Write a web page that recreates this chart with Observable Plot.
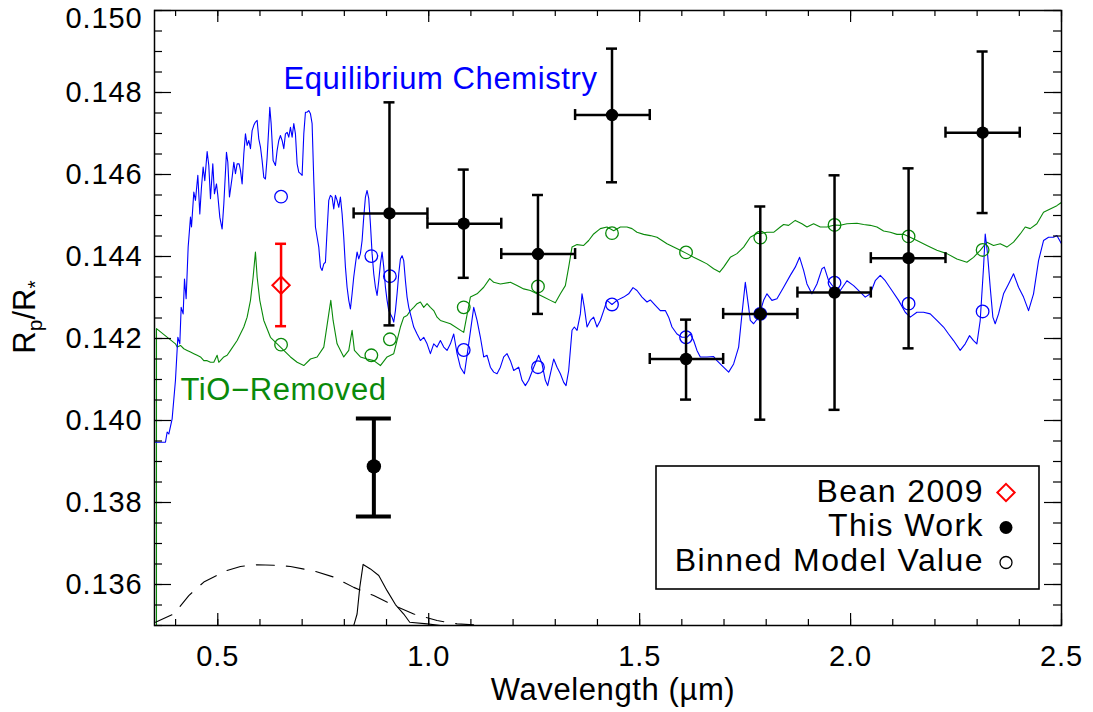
<!DOCTYPE html>
<html><head><meta charset="utf-8">
<script src="https://cdn.jsdelivr.net/npm/d3@7"></script>
<script src="https://cdn.jsdelivr.net/npm/@observablehq/plot@0.6"></script>
<style>html,body{margin:0;padding:0;background:#fff}</style>
</head><body><div id="chart"></div>
<script>
// ---------------- DATA ----------------
const xMajorTicks = [0.5, 1.0, 1.5, 2.0, 2.5];
const yMajorTicks = [0.136, 0.138, 0.140, 0.142, 0.144, 0.146, 0.148, 0.150];
const legendLabels = ["Bean 2009", "This Work", "Binned Model Value"];
const xLabel = "Wavelength (µm)";
const annotations = [
  {text: "Equilibrium Chemistry", x: 0.6557, y: 0.14809, series: "eq"},
  {text: "TiO\u2212Removed", x: 0.4116, y: 0.14049, series: "tio"}
];

// This Work (binned photometry)
const obsX   = [0.907, 1.083, 1.259, 1.4345, 1.610, 1.786, 1.962, 2.1375, 2.313];
const obsY   = [0.14505, 0.14480, 0.14406, 0.14745, 0.14150, 0.14260, 0.14312, 0.14396, 0.14702];
const obsLo  = [0.14232, 0.14348, 0.14260, 0.14581, 0.14051, 0.14002, 0.14026, 0.14176, 0.14506];
const obsHi  = [0.14776, 0.14612, 0.14550, 0.14907, 0.14246, 0.14522, 0.14598, 0.14615, 0.14900];
const obsXLo = [0.822, 0.997, 1.172, 1.347, 1.524, 1.698, 1.874, 2.048, 2.225];
const obsXHi = [0.997, 1.172, 1.347, 1.524, 1.698, 1.874, 2.048, 2.225, 2.401];
// This Work, z-band point
const zX = [0.870], zY = [0.13888], zLo = [0.13766], zHi = [0.14005];
// Bean 2009
const beanX = [0.650], beanY = [0.14330], beanLo = [0.14230], beanHi = [0.14431];

// Binned model values
const binX   = [0.650, 0.864, 0.908, 1.083, 1.259, 1.4345, 1.610, 1.786, 1.962, 2.1375, 2.313];
const binEq  = [0.14546, 0.14401, 0.14352, 0.14172, 0.14130, 0.14283, 0.14203, 0.14260, 0.14336, 0.14285, 0.14266];
const binTiO = [0.14185, 0.14159, 0.14198, 0.14276, 0.14327, 0.14457, 0.14410, 0.14446, 0.14477, 0.14449, 0.14416];

// Equilibrium chemistry model spectrum [wavelength, Rp/R*]
const eqSpectrum = [
[0.3515,0.13947],[0.3563,0.13947],[0.3760,0.13947],[0.3800,0.13972],[0.3839,0.13967],[0.3918,0.14004],
[0.3997,0.14098],[0.4053,0.14203],[0.4100,0.14187],[0.4132,0.14276],[0.4179,0.14260],[0.4211,0.14345],[0.4250,0.14297],[0.4298,0.14423],[0.4353,0.14496],[0.4377,0.14472],[0.4432,0.14557],[0.4471,0.14537],[0.4527,0.14598],[0.4574,0.14504],[0.4613,0.14569],[0.4653,0.14618],[0.4692,0.14585],[0.4748,0.14656],[0.4787,0.14622],[0.4827,0.14541],[0.4882,0.14626],[0.4921,0.14553],[0.4969,0.14577],[0.5001,0.14549],[0.5048,0.14496],[0.5103,0.14467],[0.5143,0.14528],[0.5206,0.14654],[0.5238,0.14630],[0.5277,0.14545],[0.5340,0.14593],[0.5380,0.14630],[0.5419,0.14602],[0.5459,0.14626],[0.5506,0.14626],[0.5538,0.14610],[0.5577,0.14577],[0.5617,0.14650],[0.5656,0.14699],[0.5696,0.14671],[0.5735,0.14683],[0.5775,0.14663],[0.5814,0.14707],[0.5854,0.14720],[0.5893,0.14728],[0.5933,0.14732],[0.5972,0.14687],[0.6012,0.14667],[0.6051,0.14634],[0.6091,0.14593],[0.6130,0.14589],[0.6170,0.14642],[0.6209,0.14715],[0.6233,0.14764],[0.6265,0.14724],[0.6312,0.14634],[0.6367,0.14622],[0.6407,0.14659],[0.6446,0.14683],[0.6486,0.14695],[0.6525,0.14683],[0.6565,0.14663],[0.6604,0.14699],[0.6644,0.14703],[0.6683,0.14691],[0.6723,0.14715],[0.6762,0.14691],[0.6802,0.14724],[0.6841,0.14699],[0.6881,0.14626],[0.6920,0.14606],[0.6960,0.14602],[0.6999,0.14598],[0.7039,0.14699],[0.7078,0.14752],[0.7118,0.14752],[0.7157,0.14756],[0.7197,0.14748],[0.7236,0.14724],[0.7276,0.14585],[0.7315,0.14472],[0.7355,0.14447],[0.7394,0.14423],[0.7434,0.14374],[0.7473,0.14366],[0.7513,0.14382],[0.7552,0.14386],[0.7591,0.14463],[0.7631,0.14537],[0.7670,0.14549],[0.7710,0.14545],[0.7749,0.14516],[0.7789,0.14549],[0.7828,0.14537],[0.7868,0.14520],[0.7907,0.14545],[0.7947,0.14504],[0.7986,0.14447],[0.8026,0.14374],[0.8065,0.14325],[0.8105,0.14293],[0.8144,0.14272],[0.8184,0.14309],[0.8223,0.14350],[0.8263,0.14382],[0.8302,0.14411],[0.8342,0.14394],[0.8381,0.14407],[0.8421,0.14439],[0.8460,0.14496],[0.8500,0.14545],[0.8539,0.14561],[0.8579,0.14541],[0.8618,0.14480],[0.8658,0.14407],[0.8697,0.14358],[0.8737,0.14325],[0.8776,0.14305],[0.8816,0.14341],[0.8855,0.14382],[0.8895,0.14411],[0.8934,0.14374],[0.8974,0.14325],[0.9013,0.14293],[0.9053,0.14268],[0.9092,0.14260],[0.9132,0.14252],[0.9171,0.14240],[0.9211,0.14268],[0.9250,0.14309],[0.9290,0.14358],[0.9329,0.14394],[0.9369,0.14402],[0.9408,0.14390],[0.9448,0.14341],[0.9487,0.14301],[0.9527,0.14276],[0.9566,0.14260],[0.9645,0.14228],[0.9724,0.14211],[0.9803,0.14195],[0.9882,0.14203],[0.9961,0.14187],[1.0040,0.14163],[1.0119,0.14187],[1.0198,0.14179],[1.0277,0.14195],[1.0356,0.14179],[1.0435,0.14171],[1.0514,0.14187],[1.0593,0.14211],[1.0672,0.14163],[1.0751,0.14130],
[1.0846,0.14114],[1.0948,0.14187],[1.1067,0.14276],[1.1146,0.14244],[1.1225,0.14203],[1.1304,0.14155],[1.1383,0.14159],[1.1462,0.14130],[1.1541,0.14118],[1.1620,0.14114],[1.1699,0.14130],[1.1778,0.14155],[1.1857,0.14163],[1.1936,0.14146],[1.2015,0.14122],[1.2133,0.14130],[1.2212,0.14098],[1.2291,0.14085],[1.2370,0.14098],[1.2489,0.14130],[1.2607,0.14159],[1.2686,0.14138],[1.2765,0.14098],[1.2820,0.14085],[1.2884,0.14114],[1.2963,0.14150],[1.3042,0.14130],[1.3121,0.14114],[1.3200,0.14093],[1.3255,0.14085],[1.3318,0.14122],[1.3397,0.14220],[1.3452,0.14228],[1.3516,0.14220],[1.3595,0.14260],[1.3634,0.14309],[1.3689,0.14276],[1.3753,0.14228],[1.3831,0.14244],[1.3910,0.14252],[1.3989,0.14228],[1.4068,0.14244],[1.4148,0.14268],[1.4226,0.14293],[1.4345,0.14283],[1.4463,0.14293],[1.4621,0.14301],[1.4740,0.14309],[1.4843,0.14324],[1.4937,0.14317],[1.5056,0.14301],[1.5174,0.14289],[1.5253,0.14294],[1.5372,0.14281],[1.5490,0.14268],[1.5609,0.14268],[1.5688,0.14252],[1.5767,0.14228],[1.5885,0.14211],[1.6004,0.14203],[1.6122,0.14203],[1.6201,0.14211],[1.6280,0.14195],[1.6359,0.14171],[1.6438,0.14155],[1.6596,0.14155],[1.6754,0.14156],[1.6833,0.14146],[1.6952,0.14134],[1.7110,0.14118],[1.7228,0.14138],[1.7347,0.14179],[1.7426,0.14260],[1.7505,0.14337],[1.7584,0.14276],
[1.7623,0.14244],[1.7702,0.14236],[1.7820,0.14252],[1.7939,0.14293],[1.8018,0.14309],[1.8136,0.14293],[1.8255,0.14297],[1.8413,0.14325],[1.8571,0.14354],[1.8689,0.14374],[1.8792,0.14398],[1.8887,0.14366],[1.8966,0.14333],[1.9084,0.14309],[1.9203,0.14333],[1.9321,0.14370],[1.9377,0.14374],[1.9479,0.14341],[1.9598,0.14325],[1.9756,0.14317],[1.9914,0.14341],[2.0072,0.14329],[2.0230,0.14313],[2.0348,0.14301],[2.0467,0.14309],[2.0585,0.14341],[2.0704,0.14354],[2.0822,0.14341],[2.0980,0.14317],[2.1138,0.14293],[2.1296,0.14264],[2.1415,0.14252],[2.1573,0.14264],[2.1730,0.14264],[2.1888,0.14260],[2.2046,0.14244],[2.2204,0.14228],[2.2323,0.14211],[2.2441,0.14195],[2.2599,0.14171],[2.2718,0.14187],[2.2820,0.14207],[2.2915,0.14195],[2.2994,0.14187],[2.3073,0.14244],[2.3152,0.14374],[2.3192,0.14455],[2.3247,0.14406],[2.3310,0.14325],[2.3373,0.14252],[2.3428,0.14236],[2.3508,0.14260],[2.3626,0.14309],[2.3745,0.14333],[2.3863,0.14358],[2.3982,0.14325],[2.4100,0.14301],[2.4219,0.14268],[2.4337,0.14309],[2.4456,0.14390],[2.4574,0.14439],[2.4693,0.14447],[2.4811,0.14447],[2.4890,0.14451],[2.5000,0.14431]
];

// TiO-removed model spectrum [wavelength, Rp/R*]
const tioSpectrum = [
[0.3547,0.13500],[0.3547,0.14224],[0.3997,0.14187],[0.4037,0.14179],[0.4116,0.14183],[0.4195,0.14175],[0.4274,0.14171],[0.4353,0.14167],[0.4432,0.14163],[0.4511,0.14159],[0.4590,0.14155],[0.4669,0.14146],[0.4748,0.14146],[0.4827,0.14142],[0.4906,0.14142],[0.4985,0.14159],[0.5024,0.14142],[0.5143,0.14155],[0.5222,0.14159],[0.5301,0.14171],[0.5459,0.14195],[0.5617,0.14228],[0.5696,0.14252],[0.5775,0.14293],[0.5838,0.14350],[0.5893,0.14411],[0.5933,0.14350],[0.5996,0.14293],[0.6091,0.14244],[0.6249,0.14203],[0.6407,0.14187],[0.6565,0.14171],[0.6723,0.14155],[0.6881,0.14142],[0.7039,0.14134],[0.7197,0.14150],[0.7355,0.14155],[0.7513,0.14179],[0.7631,0.14260],[0.7679,0.14293],[0.7734,0.14244],[0.7828,0.14187],[0.7986,0.14155],[0.8105,0.14171],[0.8184,0.14220],[0.8239,0.14171],[0.8381,0.14155],[0.8539,0.14150],[0.8697,0.14146],[0.8855,0.14134],[0.9013,0.14155],[0.9171,0.14163],[0.9329,0.14228],[0.9408,0.14252],[0.9487,0.14256],[0.9566,0.14268],[0.9645,0.14276],[0.9724,0.14285],[0.9803,0.14289],[0.9882,0.14276],[0.9961,0.14285],[1.0040,0.14276],[1.0119,0.14268],[1.0198,0.14252],[1.0277,0.14244],
[1.0514,0.14236],[1.0830,0.14215],[1.0988,0.14301],[1.1146,0.14309],[1.1304,0.14325],[1.1446,0.14346],[1.1541,0.14337],[1.1699,0.14333],[1.1936,0.14337],[1.2094,0.14329],[1.2252,0.14321],[1.2410,0.14317],[1.2568,0.14309],[1.2726,0.14301],[1.2884,0.14293],[1.3002,0.14287],[1.3121,0.14309],[1.3239,0.14329],[1.3318,0.14374],[1.3397,0.14423],[1.3516,0.14429],[1.3674,0.14427],[1.3792,0.14439],[1.3910,0.14455],[1.4068,0.14468],[1.4226,0.14472],[1.4385,0.14463],[1.4543,0.14472],[1.4700,0.14472],[1.4819,0.14468],[1.4937,0.14459],[1.5095,0.14454],[1.5253,0.14451],[1.5411,0.14447],[1.5530,0.14439],[1.5648,0.14431],[1.5806,0.14423],[1.5964,0.14415],[1.6122,0.14407],[1.6280,0.14398],[1.6438,0.14390],[1.6596,0.14382],[1.6754,0.14370],[1.6896,0.14362],[1.6991,0.14374],[1.7149,0.14398],[1.7307,0.14407],[1.7465,0.14423],[1.7623,0.14447],[1.7781,0.14456],
[1.7860,0.14456],[1.8018,0.14459],[1.8176,0.14459],[1.8334,0.14472],[1.8413,0.14478],[1.8531,0.14476],[1.8689,0.14488],[1.8847,0.14480],[1.8966,0.14472],[1.9124,0.14480],[1.9282,0.14472],[1.9440,0.14472],[1.9621,0.14477],[1.9756,0.14476],[1.9914,0.14480],[2.0151,0.14481],[2.0309,0.14478],[2.0467,0.14476],[2.0625,0.14472],[2.0783,0.14462],[2.0941,0.14459],[2.1099,0.14454],[2.1257,0.14454],[2.1375,0.14449],[2.1573,0.14439],[2.1809,0.14427],[2.2046,0.14415],[2.2283,0.14407],[2.2520,0.14394],[2.2757,0.14386],[2.2915,0.14398],[2.3073,0.14415],[2.3231,0.14435],[2.3389,0.14427],[2.3547,0.14431],[2.3705,0.14423],[2.3863,0.14435],[2.4021,0.14455],[2.4140,0.14472],[2.4258,0.14468],[2.4416,0.14480],[2.4574,0.14508],[2.4732,0.14516],[2.4890,0.14524],[2.5000,0.14532]
];

// Filter response curves (scaled to the axis)
const filterDashed = [
[0.3524,0.13508],[0.3958,0.13528],[0.4313,0.13573],[0.4669,0.13606],[0.5182,0.13633],[0.5538,0.13644],[0.5933,0.13648],[0.6327,0.13647],[0.6723,0.13644],[0.7275,0.13633],[0.7749,0.13618],[0.8223,0.13593],[0.8697,0.13573],[0.9171,0.13549],[0.9645,0.13528],[1.0198,0.13512],[1.0672,0.13504],[1.1304,0.13500],[1.1778,0.13500]
];
const filterSolid = [
[0.8223,0.13500],[0.8302,0.13528],[0.8366,0.13593],[0.8445,0.13649],[0.8618,0.13638],[0.8816,0.13622],[0.9013,0.13585],[0.9211,0.13551],[0.9408,0.13528],[0.9550,0.13508],[0.9961,0.13504],[1.0277,0.13500]
];

// ---------------- CHART ----------------
const W = 1093, H = 712, ML = 154, MR = 32, MT = 10, MB = 87;
const FW = W - ML - MR, FH = H - MT - MB;
const font = "'Liberation Sans', Arial, Helvetica, sans-serif";
const BLUE = "#0000ff", GREEN = "#0a8a0a", RED = "#ff0000";
const seriesColor = {eq: BLUE, tio: GREEN};

const xMinorTicks = d3.range(4, 26).map(i => i / 10);
const yMinorTicks = d3.range(0, 31).map(i => 0.135 + i * 0.0005);
const yTopTick = yMajorTicks.slice(-1);
const yInnerTicks = yMajorTicks.slice(0, -1);

const obs = obsX.map((x, i) => ({x, y: obsY[i], lo: obsLo[i], hi: obsHi[i], xlo: obsXLo[i], xhi: obsXHi[i]}));
const zpt = zX.map((x, i) => ({x, y: zY[i], lo: zLo[i], hi: zHi[i]}));
const bean = beanX.map((x, i) => ({x, y: beanY[i], lo: beanLo[i], hi: beanHi[i]}));
const bins = binX.map((x, i) => ({x, eq: binEq[i], tio: binTiO[i]}));

const px = d => d[0], py = d => d[1];

const plot = Plot.plot({
  width: W, height: H,
  marginLeft: ML, marginRight: MR, marginTop: MT, marginBottom: MB,
  x: {domain: [0.35, 2.5]},
  y: {domain: [0.135, 0.150]},
  style: {fontFamily: font, background: "white", color: "black", overflow: "visible"},
  marks: [
    Plot.line(tioSpectrum, {x: px, y: py, stroke: GREEN, strokeWidth: 1.1, clip: true}),
    Plot.line(eqSpectrum, {x: px, y: py, stroke: BLUE, strokeWidth: 1.1, clip: true}),
    Plot.line(filterDashed, {x: px, y: py, stroke: "black", strokeWidth: 1.1, strokeDasharray: "18,12", clip: true}),
    Plot.line(filterSolid, {x: px, y: py, stroke: "black", strokeWidth: 1.1, clip: true}),

    Plot.dot(bins, {x: "x", y: "eq", r: 6.3, stroke: BLUE, strokeWidth: 1.3, fill: "none"}),
    Plot.dot(bins, {x: "x", y: "tio", r: 6.3, stroke: GREEN, strokeWidth: 1.3, fill: "none"}),

    // Bean 2009
    Plot.ruleX(bean, {x: "x", y1: "lo", y2: "hi", stroke: RED, strokeWidth: 2.5}),
    Plot.ruleY(bean, {y: "lo", x1: "x", x2: "x", insetLeft: -5.5, insetRight: -5.5, stroke: RED, strokeWidth: 2.5}),
    Plot.ruleY(bean, {y: "hi", x1: "x", x2: "x", insetLeft: -5.5, insetRight: -5.5, stroke: RED, strokeWidth: 2.5}),
    Plot.dot(bean, {x: "x", y: "y", symbol: "diamond2", r: 7.8, stroke: RED, strokeWidth: 2, fill: "none"}),

    // This Work
    Plot.ruleX(obs, {x: "x", y1: "lo", y2: "hi", stroke: "black", strokeWidth: 2.5}),
    Plot.ruleY(obs, {y: "y", x1: "xlo", x2: "xhi", stroke: "black", strokeWidth: 2.5}),
    Plot.ruleY(obs, {y: "lo", x1: "x", x2: "x", insetLeft: -5.5, insetRight: -5.5, stroke: "black", strokeWidth: 2.5}),
    Plot.ruleY(obs, {y: "hi", x1: "x", x2: "x", insetLeft: -5.5, insetRight: -5.5, stroke: "black", strokeWidth: 2.5}),
    Plot.ruleX(obs, {x: "xlo", y1: "y", y2: "y", insetTop: -5.5, insetBottom: -5.5, stroke: "black", strokeWidth: 2.5}),
    Plot.ruleX(obs, {x: "xhi", y1: "y", y2: "y", insetTop: -5.5, insetBottom: -5.5, stroke: "black", strokeWidth: 2.5}),
    Plot.dot(obs, {x: "x", y: "y", r: 6.2, fill: "black"}),

    Plot.ruleX(zpt, {x: "x", y1: "lo", y2: "hi", stroke: "black", strokeWidth: 4}),
    Plot.ruleY(zpt, {y: "lo", x1: "x", x2: "x", insetLeft: -17.5, insetRight: -17.5, stroke: "black", strokeWidth: 4}),
    Plot.ruleY(zpt, {y: "hi", x1: "x", x2: "x", insetLeft: -17.5, insetRight: -17.5, stroke: "black", strokeWidth: 4}),
    Plot.dot(zpt, {x: "x", y: "y", r: 7.2, fill: "black"}),

    Plot.text(annotations, {x: "x", y: "y", text: "text", fill: d => seriesColor[d.series], textAnchor: "start", lineAnchor: "bottom", fontSize: 31}),

    // inward ticks on all four sides
    Plot.tickX(xMajorTicks, {x: d => d, insetTop: FH - 12, stroke: "black", strokeWidth: 1.2}),
    Plot.tickX(xMinorTicks, {x: d => d, insetTop: FH - 6, stroke: "black", strokeWidth: 1.2}),
    Plot.tickX(xMajorTicks, {x: d => d, insetBottom: FH - 12, stroke: "black", strokeWidth: 1.2}),
    Plot.tickX(xMinorTicks, {x: d => d, insetBottom: FH - 6, stroke: "black", strokeWidth: 1.2}),
    Plot.tickY(yMajorTicks, {y: d => d, insetRight: FW - 17, stroke: "black", strokeWidth: 1.2}),
    Plot.tickY(yMinorTicks, {y: d => d, insetRight: FW - 8, stroke: "black", strokeWidth: 1.2}),
    Plot.tickY(yMajorTicks, {y: d => d, insetLeft: FW - 17, stroke: "black", strokeWidth: 1.2}),
    Plot.tickY(yMinorTicks, {y: d => d, insetLeft: FW - 8, stroke: "black", strokeWidth: 1.2}),

    Plot.axisX({ticks: xMajorTicks, tickSize: 0, tickPadding: 20, tickFormat: d3.format(".1f"), fontSize: 29, label: null}),
    Plot.axisY({ticks: yInnerTicks, tickSize: 0, tickPadding: 12, tickFormat: d3.format(".3f"), fontSize: 29, label: null}),
    Plot.axisY({ticks: yTopTick, tickSize: 0, tickPadding: 12, tickFormat: d3.format(".3f"), fontSize: 29, label: null, dy: 8}),
    Plot.text([xLabel], {frameAnchor: "bottom", dx: 5, dy: 74, lineAnchor: "bottom", fontSize: 31, fill: "black"}),
    Plot.frame({stroke: "black", strokeWidth: 1.5})
  ]
});

const svg = d3.select(plot);
svg.selectAll("g[aria-label='x-axis tick label'] text, g[aria-label='y-axis tick label'] text").style("letter-spacing", "0.9px");
svg.selectAll("g[aria-label='text'] text").style("letter-spacing", "0.6px");

// y-axis label R_p/R_*
const yl = svg.append("text")
  .attr("transform", "translate(35,317) rotate(-90)")
  .attr("text-anchor", "middle")
  .attr("font-family", font).attr("font-size", 31).attr("fill", "black");
yl.append("tspan").text("R");
yl.append("tspan").attr("font-size", 21).attr("dy", 7).text("p");
yl.append("tspan").attr("dy", -7).text("/R");
yl.append("tspan").attr("font-size", 21).attr("dy", 7).text("*");

// legend
const lg = svg.append("g").attr("font-family", font).attr("font-size", 32);
lg.append("rect").attr("x", 656).attr("y", 466).attr("width", 383).attr("height", 123)
  .attr("fill", "white").attr("stroke", "black").attr("stroke-width", 1.6);
const rows = [501.5, 536, 570.5];
legendLabels.forEach((t, i) => {
  lg.append("text").attr("x", 984).attr("y", rows[i]).attr("text-anchor", "end")
    .style("letter-spacing", "1.4px").attr("fill", "black").text(t);
});
lg.append("path").attr("d", d3.symbol(d3.symbolDiamond2, Math.PI * 7.8 * 7.8)())
  .attr("transform", "translate(1006,492.5)").attr("fill", "none").attr("stroke", RED).attr("stroke-width", 2);
lg.append("circle").attr("cx", 1006).attr("cy", 527.5).attr("r", 6.5).attr("fill", "black");
lg.append("circle").attr("cx", 1006).attr("cy", 562.5).attr("r", 6).attr("fill", "none").attr("stroke", "black").attr("stroke-width", 1.3);

document.getElementById("chart").appendChild(plot);
</script>
</body></html>
